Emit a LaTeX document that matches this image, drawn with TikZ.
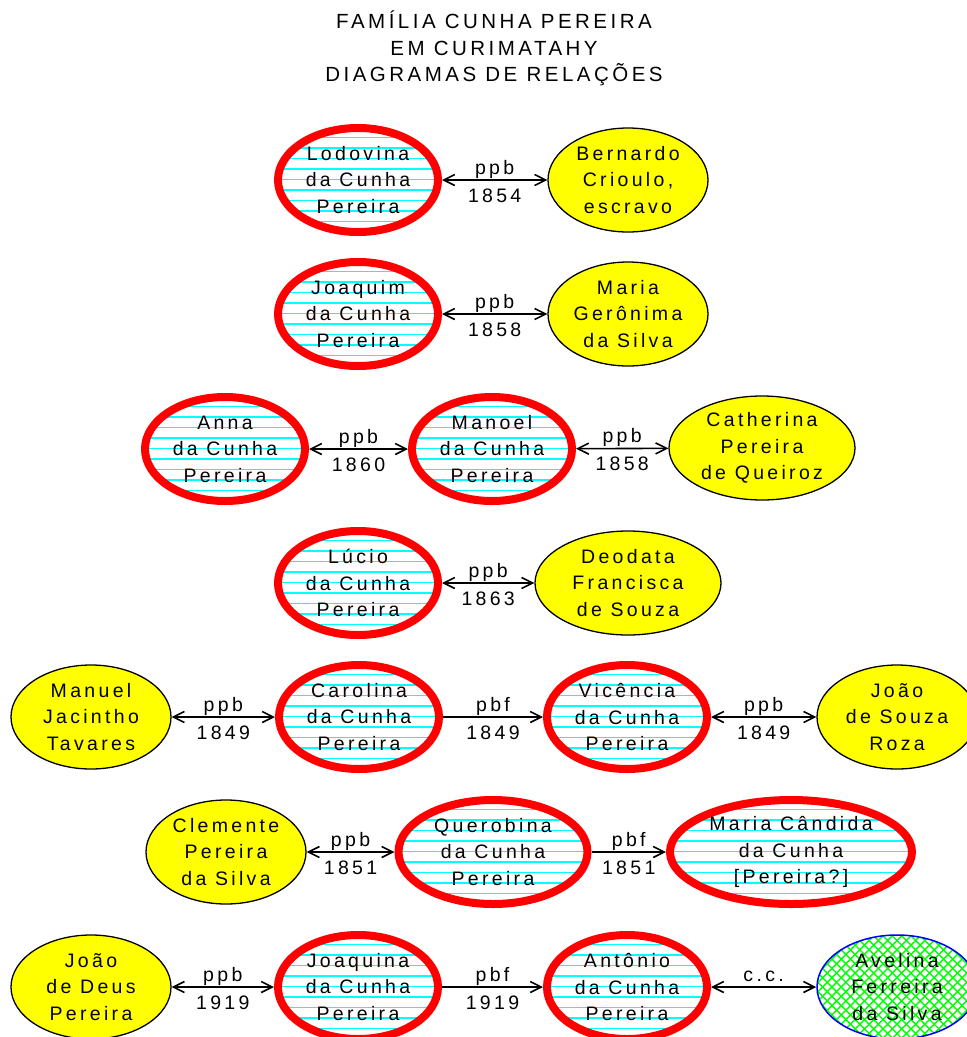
\documentclass[tikz,border=0pt]{standalone}
\usepackage{fontspec}
\newfontfamily\labfont[LetterSpace=17]{Liberation Sans}
\usetikzlibrary{shapes.geometric,arrows.meta}
\newcommand\labsize{\labfont\fontsize{19.5pt}{26.5pt}\selectfont}
\newcommand\titsize{\labfont\fontsize{20.5pt}{26.5pt}\selectfont}
\definecolor{cyanx}{RGB}{0,255,255}
\definecolor{yellowx}{RGB}{255,255,0}
\definecolor{redx}{RGB}{255,0,0}
\definecolor{greenx}{RGB}{0,255,0}
\definecolor{bluex}{RGB}{0,0,255}
\tikzset{
 base/.style={ellipse, align=center, font=\labsize, inner sep=-22pt, minimum width=160pt, minimum height=104pt},
 other/.style={base, draw=black, line width=1.3pt, fill=yellowx},
 cunha/.style={base, draw=redx, line width=8pt, fill=white,
   path picture={\foreach \k in {-6,...,6}{\draw[cyanx,line width=1.2pt] ([yshift=\k*10.5pt+0.5pt]path picture bounding box.west) -- ([yshift=\k*10.5pt+0.5pt]path picture bounding box.east);}}},
 hatch/.style={base, draw=bluex, line width=1.5pt, fill=white,
   path picture={\foreach \k in {-16,...,16}{\draw[greenx,line width=1.4pt] ([xshift=\k*9.3pt]path picture bounding box.center) ++(-70pt,-70pt) -- ++(140pt,140pt); \draw[greenx,line width=1.4pt] ([xshift=\k*9.3pt]path picture bounding box.center) ++(70pt,-70pt) -- ++(-140pt,140pt);}}},
 rel/.style={line width=1.6pt, {Straight Barb[length=11pt,width=11pt]}-{Straight Barb[length=11pt,width=11pt]}},
 fil/.style={line width=1.6pt, -{Straight Barb[length=11pt,width=11pt]}},
 lblup/.style={anchor=base, yshift=6pt, font=\labsize, inner sep=0pt},
 lbldn/.style={anchor=base, yshift=-22pt, font=\labsize, inner sep=0pt},
}
\begin{document}
\begin{tikzpicture}[x=1pt,y=-1pt]
\useasboundingbox (0,0) rectangle (967,1037);
\fill[white] (0,0) rectangle (967,1037);
\node[font=\titsize, align=center, inner sep=0pt] (title) at (494,48.5) {FAMÍLIA CUNHA PEREIRA\\EM CURIMATAHY\\DIAGRAMAS DE RELAÇÕES};
% row 1
\node[cunha] (lod) at (358,180) {Lodovina\\da Cunha\\Pereira};
\node[other] (ber) at (628,180) {Bernardo\\Crioulo,\\escravo};
\draw[rel] (lod) -- node[lblup]{ppb} node[lbldn]{1854} (ber);
% row 2
\node[cunha] (joaquim) at (358,314) {Joaquim\\da Cunha\\Pereira};
\node[other] (mariag) at (628,314) {Maria\\Gerônima\\da Silva};
\draw[rel] (joaquim) -- node[lblup]{ppb} node[lbldn]{1858} (mariag);
% row 3
\node[cunha] (anna) at (225,449) {Anna\\da Cunha\\Pereira};
\node[cunha] (manoel) at (492,449) {Manoel\\da Cunha\\Pereira};
\node[other, minimum width=186pt] (cath) at (762,448) {Catherina\\Pereira\\de Queiroz};
\draw[rel] (anna) -- node[lblup]{ppb} node[lbldn]{1860} (manoel);
\draw[rel] (manoel) -- node[lblup]{ppb} node[lbldn]{1858} (cath);
% row 4
\node[cunha] (lucio) at (358,583) {Lúcio\\da Cunha\\Pereira};
\node[other, minimum width=186pt] (deodata) at (628,583) {Deodata\\Francisca\\de Souza};
\draw[rel] (lucio) -- node[lblup]{ppb} node[lbldn]{1863} (deodata);
% row 5
\node[other] (manuel) at (91,717) {Manuel\\Jacintho\\Tavares};
\node[cunha] (carolina) at (359,717) {Carolina\\da Cunha\\Pereira};
\node[cunha] (vicencia) at (627,717) {Vicência\\da Cunha\\Pereira};
\node[other] (joao) at (897,717) {João\\de Souza\\Roza};
\draw[rel] (manuel) -- node[lblup]{ppb} node[lbldn]{1849} (carolina);
\draw[fil] (carolina) -- node[lblup]{pbf} node[lbldn]{1849} (vicencia);
\draw[rel] (vicencia) -- node[lblup]{ppb} node[lbldn]{1849} (joao);
% row 6
\node[other] (clemente) at (226,852) {Clemente\\Pereira\\da Silva};
\node[cunha, minimum width=189pt] (querobina) at (493,852) {Querobina\\da Cunha\\Pereira};
\node[cunha, minimum width=242pt] (mariac) at (791,852) {Maria Cândida\\da Cunha\\{}[Pereira?]};
\draw[rel] (clemente) -- node[lblup]{ppb} node[lbldn]{1851} (querobina);
\draw[fil] (querobina) -- node[lblup]{pbf} node[lbldn]{1851} (mariac);
% row 7
\node[other] (joaodeus) at (91,987) {João\\de Deus\\Pereira};
\node[cunha] (joaquina) at (358,987) {Joaquina\\da Cunha\\Pereira};
\node[cunha] (antonio) at (627,987) {Antônio\\da Cunha\\Pereira};
\node[hatch] (avelina) at (897,987) {Avelina\\Ferreira\\da Silva};
\draw[rel] (joaodeus) -- node[lblup]{ppb} node[lbldn]{1919} (joaquina);
\draw[fil] (joaquina) -- node[lblup]{pbf} node[lbldn]{1919} (antonio);
\draw[rel] (antonio) -- node[lblup]{c.c.} (avelina);
\end{tikzpicture}
\end{document}
